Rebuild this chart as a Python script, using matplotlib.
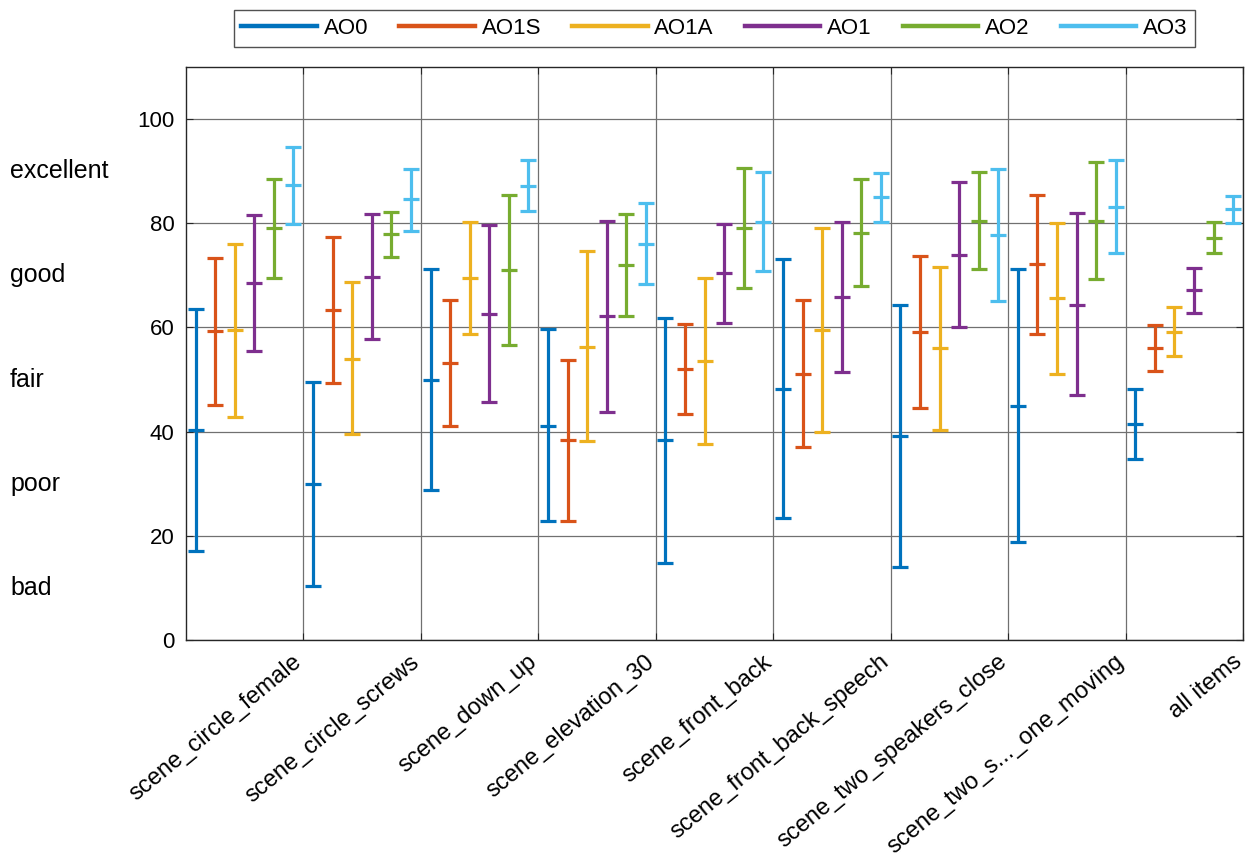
import matplotlib
matplotlib.use("Agg")
import matplotlib.pyplot as plt
import matplotlib.transforms as mtransforms
import numpy as np

plt.rcParams['font.family'] = ['Liberation Sans', 'DejaVu Sans']

categories = ["scene_circle_female", "scene_circle_screws", "scene_down_up",
              "scene_elevation_30", "scene_front_back", "scene_front_back_speech",
              "scene_two_speakers_close", "scene_two_s..._one_moving", "all items"]
series = ["AO0", "AO1S", "AO1A", "AO1", "AO2", "AO3"]
colors = ["#0072BD", "#D95319", "#EDB120", "#7E2F8E", "#77AC30", "#4DBEEE"]

# mean values per series (one per category)
mean_AO0  = [40.3, 29.9, 49.9, 41.1, 38.4, 48.2, 39.2, 45.0, 41.4]
mean_AO1S = [59.3, 63.4, 53.1, 38.4, 52.0, 51.0, 59.2, 72.1, 56.0]
mean_AO1A = [59.5, 54.0, 69.5, 56.3, 53.5, 59.5, 56.0, 65.6, 59.2]
mean_AO1  = [68.5, 69.7, 62.6, 62.1, 70.4, 65.9, 74.0, 64.4, 67.2]
mean_AO2  = [79.0, 78.0, 71.1, 71.9, 79.0, 78.2, 80.4, 80.4, 77.2]
mean_AO3  = [87.3, 84.6, 87.2, 76.1, 80.3, 85.0, 77.7, 83.2, 82.8]

# lower ends of the confidence intervals
low_AO0  = [17.1, 10.3, 28.8, 22.8, 14.7, 23.4, 14.0, 18.8, 34.8]
low_AO1S = [45.2, 49.3, 41.0, 22.8, 43.3, 37.0, 44.6, 58.8, 51.6]
low_AO1A = [42.9, 39.6, 58.8, 38.2, 37.7, 40.0, 40.4, 51.0, 54.6]
low_AO1  = [55.5, 57.7, 45.6, 43.7, 60.9, 51.5, 60.1, 47.0, 62.8]
low_AO2  = [69.5, 73.6, 56.7, 62.2, 67.5, 67.9, 71.2, 69.3, 74.2]
low_AO3  = [79.9, 78.5, 82.3, 68.3, 70.9, 80.2, 65.1, 74.2, 80.1]

# upper ends of the confidence intervals
up_AO0  = [63.6, 49.5, 71.2, 59.7, 61.9, 73.2, 64.4, 71.3, 48.2]
up_AO1S = [73.3, 77.4, 65.3, 53.8, 60.7, 65.3, 73.8, 85.4, 60.4]
up_AO1A = [76.0, 68.7, 80.2, 74.7, 69.5, 79.0, 71.6, 80.1, 64.0]
up_AO1  = [81.5, 81.8, 79.7, 80.5, 79.9, 80.3, 88.0, 81.9, 71.5]
up_AO2  = [88.4, 82.2, 85.4, 81.7, 90.6, 88.4, 89.8, 91.7, 80.3]
up_AO3  = [94.7, 90.4, 92.1, 83.8, 89.8, 89.7, 90.4, 92.2, 85.2]

means = [mean_AO0, mean_AO1S, mean_AO1A, mean_AO1, mean_AO2, mean_AO3]
lows = [low_AO0, low_AO1S, low_AO1A, low_AO1, low_AO2, low_AO3]
ups = [up_AO0, up_AO1S, up_AO1A, up_AO1, up_AO2, up_AO3]

y_ticks = [0, 20, 40, 60, 80, 100]
rating_labels = ["bad", "poor", "fair", "good", "excellent"]
rating_levels = [10, 30, 50, 70, 90]

fig = plt.figure(figsize=(12.47, 8.63), dpi=100)
ax = fig.add_axes([0.149, 0.2584, 0.8478, 0.664])

n_cat = len(categories)
n_ser = len(series)
base = np.arange(n_cat)
for k in range(n_ser):
    x = base + (k + 0.5) / n_ser
    m = np.array(means[k])
    lo = m - np.array(lows[k])
    hi = np.array(ups[k]) - m
    ax.errorbar(x, m, yerr=[lo, hi], fmt='_', color=colors[k], ecolor=colors[k],
                elinewidth=2.3, capsize=6, capthick=2.3, markersize=12,
                markeredgewidth=2.3, zorder=3)
    ax.plot([], [], color=colors[k], lw=3.2, label=series[k])

ax.set_xlim(0, n_cat)
ax.set_ylim(0, 110)
ax.set_xticks(np.arange(1, n_cat + 1))
ax.set_xticklabels(categories, rotation=39.5, ha='right', va='center',
                   rotation_mode='anchor', fontsize=17)
ax.set_yticks(y_ticks)
ax.set_yticklabels([str(v) for v in y_ticks], fontsize=16)
ax.tick_params(direction='in', length=5, width=0.8, top=True, right=True,
               colors='#262626', labelcolor='black', pad=8)
ax.tick_params(axis='x', pad=14)
shift = mtransforms.ScaledTranslation(-4 / 100, 0, fig.dpi_scale_trans)
for lab in ax.get_xticklabels():
    lab.set_transform(lab.get_transform() + shift)
ax.grid(True, color='#707070', lw=0.9, zorder=0)
ax.set_axisbelow(True)
for s in ax.spines.values():
    s.set_color('#262626')
    s.set_linewidth(1.0)

trans = mtransforms.blended_transform_factory(fig.transFigure, ax.transData)
for lab, lev in zip(rating_labels, rating_levels):
    ax.text(10 / 1247, lev, lab, transform=trans, ha='left', va='center',
            fontsize=18, clip_on=False)

leg = ax.legend(loc='lower center', bbox_to_anchor=(0.5, 1.035), ncol=6,
                fontsize=16, handlelength=3.4, handletextpad=0.3,
                columnspacing=1.4, frameon=True, fancybox=False,
                borderpad=0.35, borderaxespad=0)
leg.get_frame().set_edgecolor('#262626')
leg.get_frame().set_linewidth(1.0)

fig.savefig("out.png", dpi=100)
